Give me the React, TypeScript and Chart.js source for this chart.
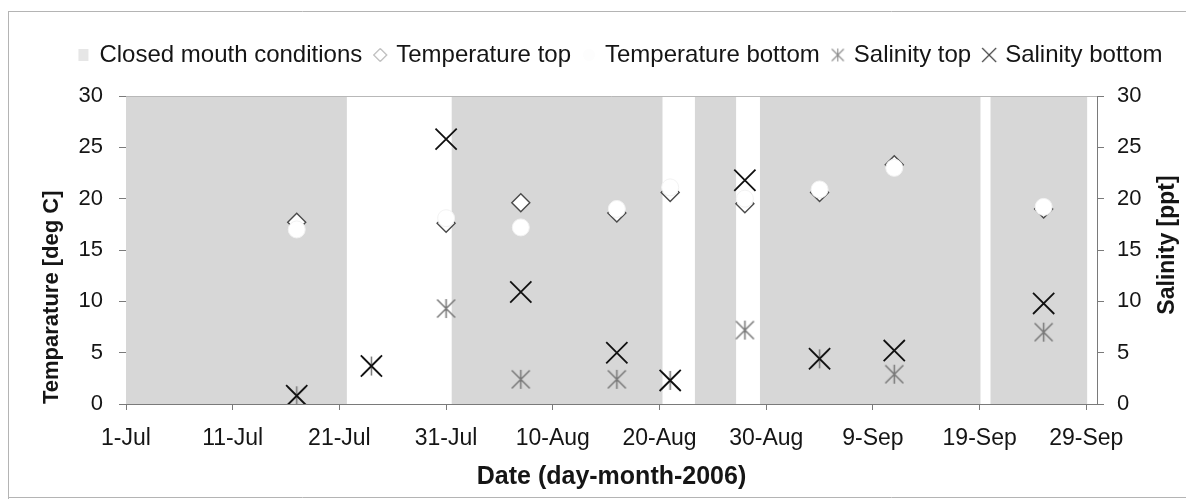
import { useEffect, useRef } from 'react';
import { Chart, registerables } from 'chart.js';

Chart.register(...registerables);

// ---- data ----
const xTickLabels = ['1-Jul', '11-Jul', '21-Jul', '31-Jul', '10-Aug', '20-Aug', '30-Aug', '9-Sep', '19-Sep', '29-Sep'];
const sampleDates = ['2006-07-17', '2006-07-24', '2006-07-31', '2006-08-07', '2006-08-16', '2006-08-21', '2006-08-28', '2006-09-04', '2006-09-11', '2006-09-25'];
const temperatureTop = [17.7, null, 17.6, 19.6, 18.6, 20.6, 19.5, 20.6, 23.3, 19.0];
const temperatureBottom = [17.0, null, 18.1, 17.2, 19.0, 21.1, 20.0, 20.9, 23.0, 19.2];
const salinityTop = [0.8, 3.7, 9.3, 2.4, 2.4, 2.3, 7.2, 4.4, 2.9, 7.0];
const salinityBottom = [0.8, 3.7, 25.8, 10.9, 5.0, 2.3, 21.8, 4.4, 5.2, 9.8];
// closed-mouth periods, in days since 1-Jul-2006
const closedFrom = [0, 30.5, 53.3, 59.4, 81.0];
const closedTo = [20.7, 50.3, 57.2, 80.1, 90.1];
const closedLevel = 30;

const FONT = "'Liberation Sans', Arial, Helvetica, sans-serif";
const TEXT = '#151515';
const AXIS = '#7a7a7a';

function dayOf(iso: string): number {
  const [y, m, d] = iso.split('-').map(Number);
  return (Date.UTC(y, m - 1, d) - Date.UTC(2006, 6, 1)) / 86400000;
}

function makeIcon(w: number, h: number, draw: (c: CanvasRenderingContext2D) => void) {
  const cv = document.createElement('canvas');
  cv.width = w;
  cv.height = h;
  const c = cv.getContext('2d')!;
  draw(c);
  return cv;
}

function starIcon(size: number, color: string, lw: number) {
  return makeIcon(size, size, (c) => {
    const p = 1.5;
    const s = size - p;
    c.strokeStyle = color;
    c.lineWidth = lw;
    c.beginPath();
    c.moveTo(p, p); c.lineTo(s, s);
    c.moveTo(s, p); c.lineTo(p, s);
    c.moveTo(size / 2, p - 0.5); c.lineTo(size / 2, s + 0.5);
    c.stroke();
  });
}

export default function App() {
  const ref = useRef<HTMLCanvasElement>(null);

  useEffect(() => {
    if (!ref.current) return;
    const days = sampleDates.map(dayOf);
    const pts = (vals: (number | null)[]) => days.map((x, i) => ({ x, y: vals[i] }));

    const closedData: { x: number; y: number | null }[] = [];
    closedFrom.forEach((f, i) => {
      closedData.push({ x: f, y: closedLevel });
      closedData.push({ x: closedTo[i], y: closedLevel });
      closedData.push({ x: closedTo[i], y: null });
    });

    const starPoint = starIcon(21, '#777777', 1.5);

    const legendIcons = [
      makeIcon(12, 14, (c) => { c.fillStyle = '#e6e6e6'; c.fillRect(1, 1, 10, 12); }),
      makeIcon(16, 16, (c) => {
        c.strokeStyle = '#888'; c.lineWidth = 1; c.fillStyle = '#fff';
        c.beginPath(); c.moveTo(8, 1.5); c.lineTo(14.5, 8); c.lineTo(8, 14.5); c.lineTo(1.5, 8); c.closePath(); c.fill(); c.stroke();
      }),
      makeIcon(14, 14, (c) => { c.fillStyle = '#fdfdfd'; c.beginPath(); c.arc(7, 7, 6, 0, Math.PI * 2); c.fill(); }),
      starIcon(15, '#8a8a8a', 1.1),
      makeIcon(18, 18, (c) => {
        c.strokeStyle = '#444'; c.lineWidth = 1.2;
        c.beginPath(); c.moveTo(2, 2); c.lineTo(16, 16); c.moveTo(16, 2); c.lineTo(2, 16); c.stroke();
      }),
    ];

    const framePlugin = {
      id: 'frame',
      beforeDraw(chart: any) {
        const c = chart.ctx;
        c.save();
        c.strokeStyle = '#b4b4b4';
        c.lineWidth = 1;
        c.beginPath();
        c.moveTo(8, 11.5); c.lineTo(1186, 11.5);
        c.moveTo(8.5, 11); c.lineTo(8.5, 499);
        c.moveTo(8, 497.5); c.lineTo(1186, 497.5);
        c.stroke();
        c.restore();
      },
      afterDatasetsDraw(chart: any) {
        const a = chart.chartArea;
        const c = chart.ctx;
        c.save();
        c.strokeStyle = '#b8b8b8';
        c.lineWidth = 1;
        c.beginPath();
        c.moveTo(a.left, a.top + 0.5); c.lineTo(a.right, a.top + 0.5);
        c.stroke();
        c.restore();
      },
      afterDraw(chart: any) {
        const c = chart.ctx;
        c.save();
        c.font = `bold 23px ${FONT}`;
        c.fillStyle = TEXT;
        c.textAlign = 'center';
        c.textBaseline = 'middle';
        c.translate(1168, 245);
        c.rotate(-Math.PI / 2);
        c.fillText('Salinity [ppt]', 0, 0);
        c.restore();
      },
      afterLayout(chart: any) {
        const lg = chart.legend;
        if (lg) {
          lg.left += 28;
          lg.right += 28;
          lg.top -= 19;
          lg.bottom -= 19;
        }
      },
    };

    const chart = new Chart(ref.current, {
      type: 'scatter',
      data: {
        datasets: [
          {
            type: 'line',
            label: 'Closed mouth conditions',
            data: closedData,
            showLine: true,
            fill: 'origin',
            backgroundColor: '#d7d7d7',
            borderColor: 'rgba(0,0,0,0)',
            borderWidth: 0,
            pointRadius: 0,
            spanGaps: false,
            tension: 0,
            yAxisID: 'y',
            order: 10,
          } as any,
          {
            label: 'Temperature top',
            data: pts(temperatureTop),
            pointStyle: 'rectRot',
            pointRadius: 9,
            backgroundColor: '#ffffff',
            borderColor: '#4a4a4a',
            borderWidth: 1.4,
            yAxisID: 'y',
            order: 4,
          },
          {
            label: 'Temperature bottom',
            data: pts(temperatureBottom),
            pointStyle: 'circle',
            pointRadius: 8.5,
            backgroundColor: '#ffffff',
            borderColor: '#f2f2f2',
            borderWidth: 1,
            yAxisID: 'y',
            order: 3,
          },
          {
            label: 'Salinity top',
            data: pts(salinityTop),
            pointStyle: starPoint as any,
            pointRadius: 10,
            borderColor: '#777777',
            backgroundColor: '#777777',
            yAxisID: 'y2',
            order: 2,
          },
          {
            label: 'Salinity bottom',
            data: pts(salinityBottom),
            pointStyle: 'crossRot',
            pointRadius: 15,
            borderColor: '#111111',
            backgroundColor: '#111111',
            borderWidth: 1.8,
            yAxisID: 'y2',
            order: 1,
          },
        ],
      },
      options: {
        responsive: false,
        animation: false,
        devicePixelRatio: 1,
        layout: { padding: { left: 0, right: 0, top: 48, bottom: 0 } },
        font: { family: FONT },
        plugins: {
          tooltip: { enabled: false },
          legend: {
            display: true,
            position: 'top',
            labels: {
              usePointStyle: true,
              boxWidth: 8,
              boxHeight: 10,
              padding: 14,
              color: TEXT,
              font: { family: FONT, size: 24 },
              sort: (a: any, b: any) => a.datasetIndex - b.datasetIndex,
              generateLabels: (ch: any) => {
                const items = (Chart.defaults.plugins.legend.labels as any).generateLabels(ch);
                items.forEach((it: any) => {
                  it.pointStyle = legendIcons[it.datasetIndex];
                  it.lineWidth = 0;
                });
                return items;
              },
            },
          },
        },
        scales: {
          x: {
            type: 'linear',
            position: 'bottom',
            min: 0,
            max: 91,
            afterFit: (s: any) => { s.height = 95; },
            ticks: {
              stepSize: 10,
              includeBounds: false,
              autoSkip: false,
              maxRotation: 0,
              padding: 15,
              color: TEXT,
              font: { family: FONT, size: 23 },
              callback: (v: any) => xTickLabels[Math.round(Number(v) / 10)] ?? '',
            },
            grid: { drawOnChartArea: false, drawTicks: true, tickLength: 6, color: AXIS },
            border: { display: true, color: AXIS, width: 1 },
            title: {
              display: true,
              text: 'Date (day-month-2006)',
              color: TEXT,
              font: { family: FONT, size: 25, weight: 'bold' },
              padding: { top: 0, bottom: 7 },
            },
          },
          y: {
            type: 'linear',
            position: 'left',
            min: 0,
            max: 30,
            afterFit: (s: any) => { s.width = 126; },
            ticks: { stepSize: 5, padding: 16, color: TEXT, font: { family: FONT, size: 22 } },
            grid: { drawOnChartArea: false, drawTicks: true, tickLength: 7, color: AXIS },
            border: { display: true, color: AXIS, width: 1 },
            title: {
              display: true,
              text: 'Temparature [deg C]',
              align: 'start',
              color: TEXT,
              font: { family: FONT, size: 22, weight: 'bold' },
              padding: { top: 39, bottom: 0 },
            },
          },
          y2: {
            type: 'linear',
            position: 'right',
            min: 0,
            max: 30,
            afterFit: (s: any) => { s.width = 89; },
            ticks: { stepSize: 5, padding: 13, color: TEXT, font: { family: FONT, size: 22 } },
            grid: { drawOnChartArea: false, drawTicks: true, tickLength: 7, color: AXIS },
            border: { display: true, color: AXIS, width: 1 },
          },
        },
      } as any,
      plugins: [framePlugin],
    });
    return () => chart.destroy();
  }, []);

  return (
    <div style={{ position: 'absolute', left: 0, top: 0, width: 1186, height: 499, background: '#ffffff', overflow: 'hidden' }}>
      <canvas ref={ref} width={1186} height={499} style={{ display: 'block', width: 1186, height: 499 }} />
    </div>
  );
}
